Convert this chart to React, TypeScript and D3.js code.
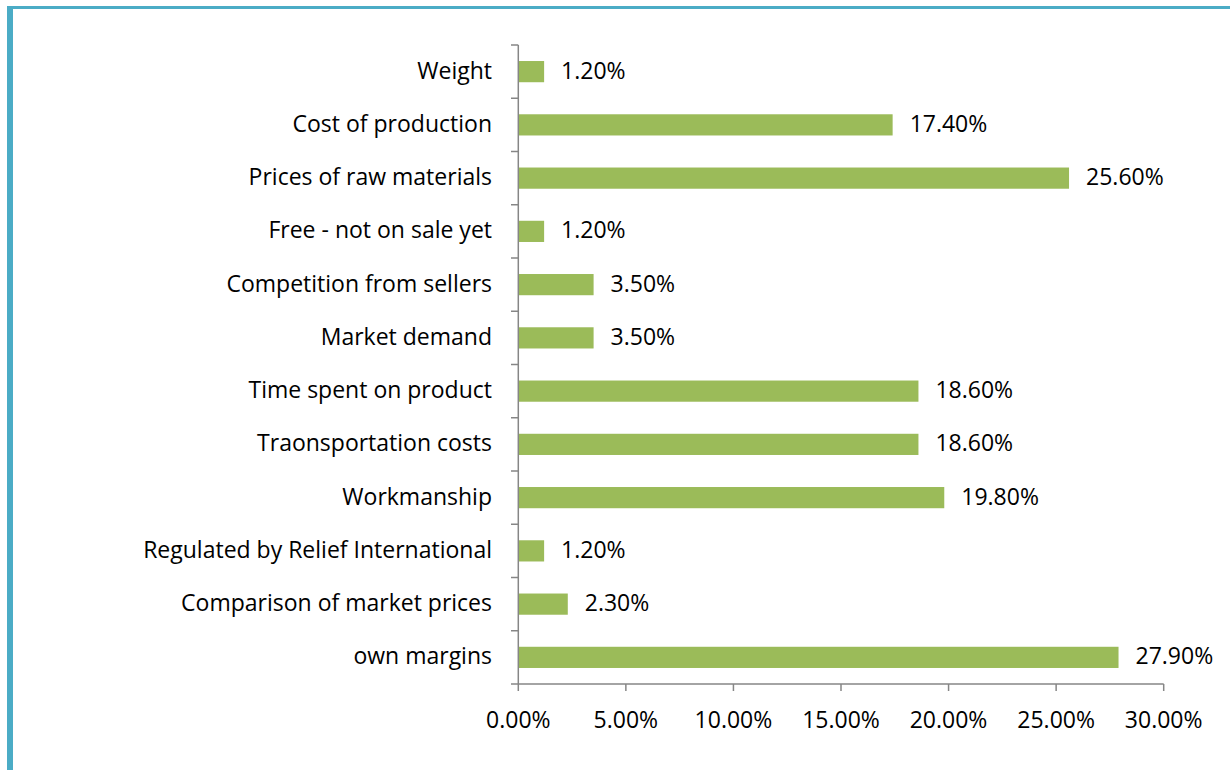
import React from "react";
import * as d3 from "d3";

const categories = [
  "Weight",
  "Cost of production",
  "Prices of raw materials",
  "Free - not on sale yet",
  "Competition from sellers",
  "Market demand",
  "Time spent on product",
  "Traonsportation costs",
  "Workmanship",
  "Regulated by Relief International",
  "Comparison of market prices",
  "own margins",
];
const values = [1.2, 17.4, 25.6, 1.2, 3.5, 3.5, 18.6, 18.6, 19.8, 1.2, 2.3, 27.9];
const xTicks = [0, 5, 10, 15, 20, 25, 30];

const W = 1230;
const H = 770;
const FONT = "'Open Sans', sans-serif";

export default function App() {
  const x = d3.scaleLinear().domain([0, 30]).range([518.3, 1163.7]);
  const band = d3.scaleBand().domain(categories).range([45, 684]);
  const axisColor = "#868686";
  const fs = 23;
  return (
    <svg width={W} height={H} style={{ position: "absolute", left: 0, top: 0 }}>
      <rect x={0} y={0} width={W} height={H} fill="#fff" />
      <rect x={7} y={6} width={W - 7} height={3} fill="#4bacc6" />
      <rect x={7} y={6} width={6} height={H - 6} fill="#4bacc6" />
      {categories.map((c, i) => {
        const yc = (band(c) as number) + band.bandwidth() / 2;
        return (
          <g key={c}>
            <rect
              x={x(0)}
              y={yc - 10.6}
              width={x(values[i]) - x(0)}
              height={21.2}
              fill="#9bbb59"
            />
            <text
              x={492}
              y={yc + 7}
              textAnchor="end"
              fontFamily={FONT}
              fontSize={fs}
              fill="#000"
            >
              {c}
            </text>
            <text
              x={x(values[i]) + 17}
              y={yc + 7}
              fontFamily={FONT}
              fontSize={fs}
              fill="#000"
            >
              {values[i].toFixed(2) + "%"}
            </text>
          </g>
        );
      })}
      {/* y axis */}
      <line x1={x(0)} x2={x(0)} y1={45} y2={684} stroke={axisColor} strokeWidth={1.5} />
      {d3.range(13).map((i) => {
        const yy = 45 + band.step() * i;
        return <line key={i} x1={511} x2={x(0)} y1={yy} y2={yy} stroke={axisColor} strokeWidth={1.5} />;
      })}
      {/* x axis */}
      <line x1={x(0)} x2={x(30)} y1={684} y2={684} stroke={axisColor} strokeWidth={1.5} />
      {xTicks.map((t) => (
        <g key={t}>
          <line x1={x(t)} x2={x(t)} y1={684} y2={691} stroke={axisColor} strokeWidth={1.5} />
          <text
            x={x(t)}
            y={727.5}
            textAnchor="middle"
            fontFamily={FONT}
            fontSize={fs}
            fill="#000"
          >
            {t.toFixed(2) + "%"}
          </text>
        </g>
      ))}
    </svg>
  );
}
